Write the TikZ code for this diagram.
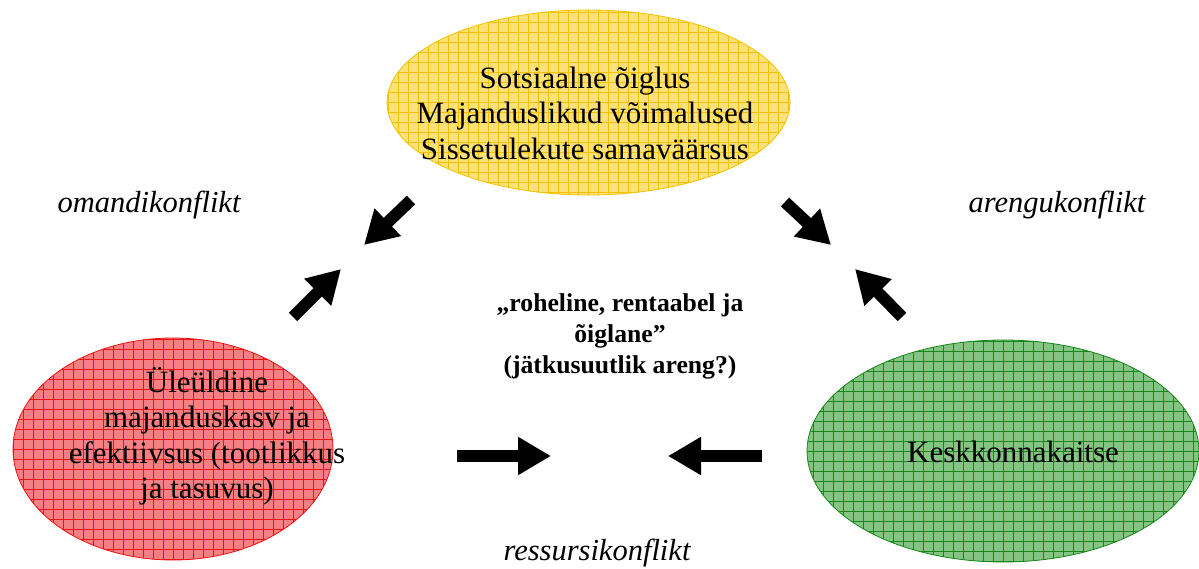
\documentclass[tikz,border=0pt]{standalone}
\usepackage{fontspec}
\setmainfont{Liberation Serif}
\usetikzlibrary{shapes.geometric,arrows.meta}
\definecolor{yfill}{HTML}{FCE07A}
\definecolor{ygrid}{HTML}{F2C200}
\definecolor{rfill}{HTML}{F48086}
\definecolor{rgrid}{HTML}{EE1111}
\definecolor{gfill}{HTML}{86C486}
\definecolor{ggrid}{HTML}{17871A}
\tikzset{
  blob/.style n args={2}{ellipse, inner sep=0pt, fill=#1, draw=#2, line width=0.8pt,
    path picture={\draw[#2, line width=0.7pt, step=10pt]
      ([xshift=-5pt,yshift=-5pt]path picture bounding box.south west) grid
      ([xshift=5pt,yshift=5pt]path picture bounding box.north east);}},
  bigtxt/.style={align=center, inner sep=0pt, font=\fontsize{31}{35.5}\selectfont},
  midtxt/.style={align=center, inner sep=0pt, font=\fontsize{25.7}{31}\selectfont\bfseries},
  lbl/.style={inner sep=0pt, font=\fontsize{30.5}{34}\selectfont\itshape},
  blockarrow/.style={line width=12pt, -{Triangle[length=33pt,width=36pt]}}
}
\begin{document}
\begin{tikzpicture}[x=1pt,y=-1pt]
\useasboundingbox (0,0) rectangle (1199,569);
\node[blob={yfill}{ygrid}, minimum width=403pt, minimum height=185pt] (soc) at (588.5,102.5) {};
\node[blob={rfill}{rgrid}, minimum width=320pt, minimum height=222pt] (maj) at (173,449) {};
\node[blob={gfill}{ggrid}, minimum width=392pt, minimum height=222pt] (kesk) at (1003,451) {};
\node[bigtxt] (soct) at (585,113) {Sotsiaalne õiglus\\Majanduslikud võimalused\\Sissetulekute samaväärsus};
\node[bigtxt] (majt) at (207,436) {Üleüldine\\majanduskasv ja\\efektiivsus (tootlikkus\\ja tasuvus)};
\node[bigtxt] (keskt) at (1013,452) {Keskkonnakaitse};
\node[midtxt] (mid) at (620,336) {„roheline, rentaabel ja\\õiglane”\\(jätkusuutlik areng?)};
\node[lbl] (l1) at (149,205) {omandikonflikt};
\node[lbl] (l2) at (1057,205) {arengukonflikt};
\node[lbl] (l3) at (597,553) {ressursikonflikt};
\coordinate (a1s) at (411,200); \coordinate (a1e) at (364,245);
\coordinate (a2s) at (293,317); \coordinate (a2e) at (341,269);
\coordinate (a3s) at (785,202); \coordinate (a3e) at (831,245);
\coordinate (a4s) at (902,317); \coordinate (a4e) at (855,269);
\coordinate (a5s) at (457,456); \coordinate (a5e) at (551,456);
\coordinate (a6s) at (762,456); \coordinate (a6e) at (668,456);
\draw[blockarrow] (a1s) -- (a1e);
\draw[blockarrow] (a2s) -- (a2e);
\draw[blockarrow] (a3s) -- (a3e);
\draw[blockarrow] (a4s) -- (a4e);
\draw[blockarrow] (a5s) -- (a5e);
\draw[blockarrow] (a6s) -- (a6e);
\end{tikzpicture}
\end{document}
